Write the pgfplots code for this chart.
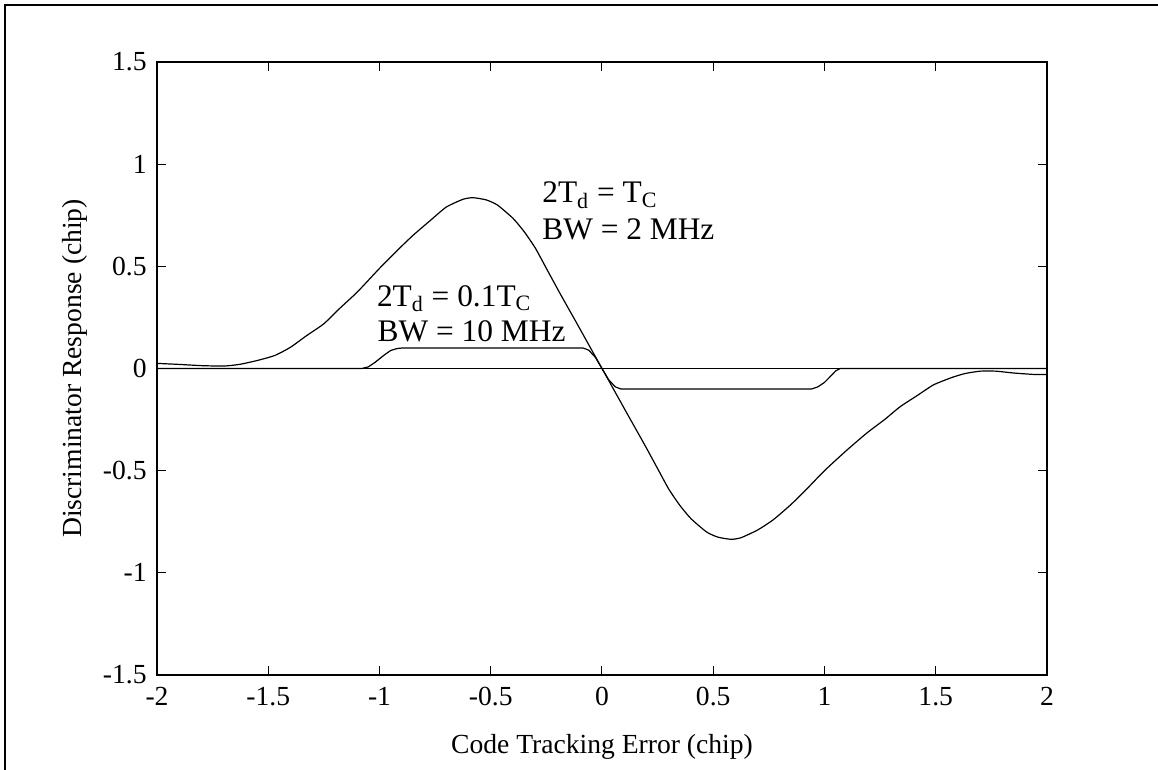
\documentclass[border=0pt]{standalone}
\usepackage{pgfplots}
\pgfplotsset{compat=1.18}
\usepackage{fontspec}
\setmainfont{Liberation Serif}
\begin{document}
\begin{tikzpicture}[font=\fontsize{13.5pt}{16pt}\selectfont]
\path[use as bounding box] (0,0) rectangle (579pt,-385pt);
\draw[line width=1pt] (2.5pt,-385pt) -- (2.5pt,-2.5pt) -- (579pt,-2.5pt);
\begin{axis}[
  at={(78.5pt,-337.5pt)}, anchor=south west,
  scale only axis, width=445pt, height=306.5pt,
  xmin=-2, xmax=2, ymin=-1.5, ymax=1.5,
  xtick={-2,-1.5,-1,-0.5,0,0.5,1,1.5,2},
  xticklabels={-2,-1.5,-1,-0.5,0,0.5,1,1.5,2},
  ytick={-1.5,-1,-0.5,0,0.5,1,1.5},
  yticklabels={-1.5,-1,-0.5,0,0.5,1,1.5},
  tick align=inside, tick pos=both, ticklabel pos=left,
  major tick length=4.5pt,
  every tick/.style={black, line width=0.5pt},
  axis line style={line width=0.85pt},
  tick label style={font=\fontsize{13.8pt}{16pt}\selectfont, inner sep=0pt},
  xticklabel style={anchor=north}, xticklabel shift=6pt,
  yticklabel style={anchor=east}, yticklabel shift=5pt,
  label style={font=\fontsize{13.8pt}{16pt}\selectfont},
  xlabel={Code Tracking Error (chip)},
  ylabel={Discriminator Response (chip)},
  xlabel style={at={(axis description cs:0.5,-0.1175)}, anchor=center},
  ylabel style={at={(axis description cs:-0.0921,0.5)}, anchor=center},
  clip=false,
]
\addplot[black, line width=0.5pt] coordinates {(-2,0) (2,0)};
\addplot[black, line width=0.6pt, smooth, tension=0.35] coordinates {
(-2.00,0.025) (-1.90,0.020) (-1.80,0.014) (-1.70,0.012) (-1.63,0.020) (-1.55,0.039)
(-1.47,0.064) (-1.40,0.104) (-1.33,0.159) (-1.25,0.219) (-1.18,0.293) (-1.10,0.374)
(-1.00,0.49) (-0.92,0.578) (-0.85,0.651) (-0.77,0.726) (-0.70,0.79) (-0.625,0.828)
(-0.58,0.836) (-0.52,0.825) (-0.47,0.80) (-0.40,0.735) (-0.35,0.67) (-0.30,0.59)
(-0.25,0.49) (-0.19,0.37) (-0.11,0.215) (-0.04,0.078) (0,0)
(0.04,-0.078) (0.11,-0.215) (0.19,-0.37) (0.25,-0.49) (0.30,-0.59) (0.35,-0.67)
(0.40,-0.735) (0.47,-0.80) (0.52,-0.825) (0.58,-0.836) (0.625,-0.828) (0.70,-0.79)
(0.77,-0.74) (0.85,-0.665) (0.92,-0.59) (1.00,-0.50) (1.10,-0.40) (1.19,-0.316)
(1.27,-0.25) (1.34,-0.187) (1.42,-0.13) (1.49,-0.08) (1.57,-0.045) (1.63,-0.025)
(1.70,-0.013) (1.77,-0.013) (1.85,-0.022) (1.94,-0.029) (2.00,-0.029)
};
\addplot[black, line width=0.6pt] coordinates {
(-2,0) (-1.08,0) (-1.05,0.008) (-1.02,0.03) (-0.98,0.065) (-0.95,0.088) (-0.92,0.098)
(-0.90,0.1) (-0.084,0.1) (-0.06,0.09) (-0.03,0.055) (0,0) (0.03,-0.055) (0.06,-0.09)
(0.084,-0.1) (0.942,-0.1) (0.97,-0.09) (1.00,-0.068) (1.03,-0.035) (1.05,-0.012)
(1.07,0) (2,0)
};
\node[anchor=base west, inner sep=0pt, font=\fontsize{15.7pt}{18pt}\selectfont] at (axis cs:-0.27,0.81) {2T\textsubscript{d} = T\textsubscript{C}};
\node[anchor=base west, inner sep=0pt, font=\fontsize{15.7pt}{18pt}\selectfont] at (axis cs:-0.27,0.63) {BW = 2 MHz};
\node[anchor=base west, inner sep=0pt, font=\fontsize{15.7pt}{18pt}\selectfont] at (axis cs:-1.013,0.305) {2T\textsubscript{d} = 0.1T\textsubscript{C}};
\node[anchor=base west, inner sep=0pt, font=\fontsize{15.7pt}{18pt}\selectfont] at (axis cs:-1.01,0.131) {BW = 10 MHz};
\end{axis}
\end{tikzpicture}
\end{document}
